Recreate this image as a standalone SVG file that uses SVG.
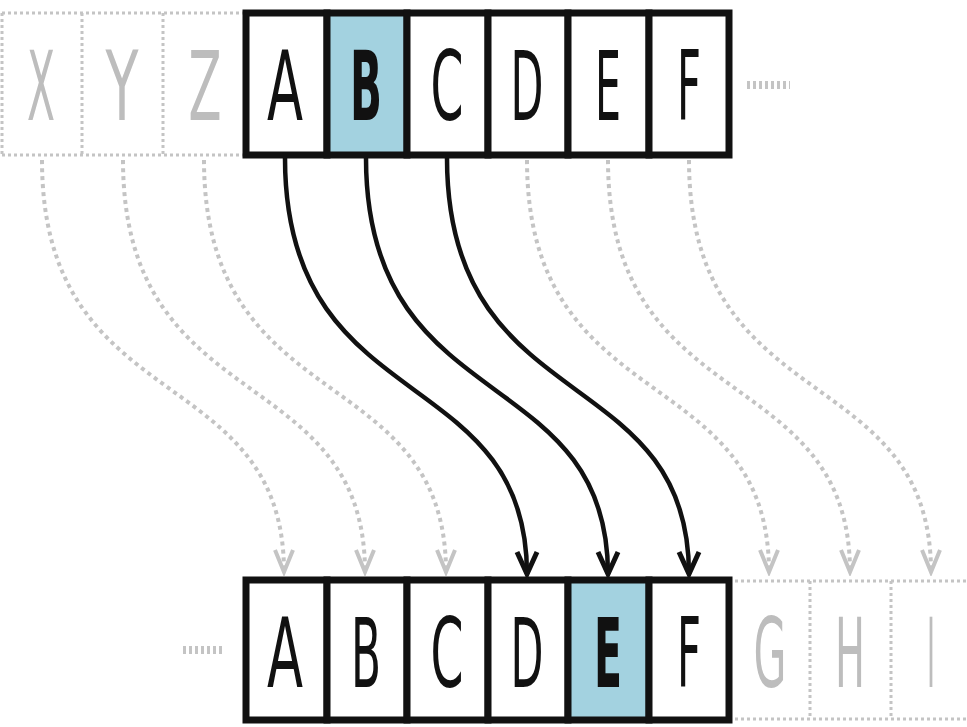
<svg xmlns="http://www.w3.org/2000/svg" width="967" height="727" viewBox="0 0 967 727">
<style>
.cell{fill:#fff;stroke:#111;stroke-width:7}
.hl{fill:#a3d2e0}
.ghost{fill:none;stroke:#c4c4c4;stroke-width:3;stroke-dasharray:3 3}
.lt{font-family:"DejaVu Sans","Liberation Sans",sans-serif;font-size:97px;fill:#111;text-anchor:middle}
.lb{font-weight:bold}
.lg{fill:#bdbdbd}
.arr{fill:none;stroke:#111;stroke-width:4.5}
.garr{fill:none;stroke:#c4c4c4;stroke-width:4;stroke-dasharray:4 4}
.dots{stroke:#c4c4c4;stroke-width:8;stroke-dasharray:3 3}
</style>
<defs>
<marker id="hb" markerUnits="userSpaceOnUse" viewBox="-26 -14 30 28" markerWidth="30" markerHeight="28" refX="0" refY="0" orient="auto">
<path d="M-22,-10 L0,0 L-22,10" fill="none" stroke="#111" stroke-width="5" stroke-linejoin="miter"/>
</marker>
<marker id="hg" markerUnits="userSpaceOnUse" viewBox="-26 -14 30 28" markerWidth="30" markerHeight="28" refX="0" refY="0" orient="auto">
<path d="M-22,-9 L0,0 L-22,9" fill="none" stroke="#c4c4c4" stroke-width="4"/>
</marker>
</defs>
<rect width="967" height="727" fill="#fff"/>

<g id="top-ghost">
<path class="ghost" d="M2,13 H244 M2,155 H244 M2,13 V155 M82,13 V155 M163,13 V155"/>
<text class="lt lg" x="41" y="120" textLength="28" lengthAdjust="spacingAndGlyphs">X</text>
<text class="lt lg" x="122" y="120" textLength="33" lengthAdjust="spacingAndGlyphs">Y</text>
<text class="lt lg" x="205" y="120" textLength="33" lengthAdjust="spacingAndGlyphs">Z</text>
<line class="dots" x1="747" y1="85" x2="790" y2="85"/>
</g>

<g id="top-A"><rect class="cell" x="246" y="13" width="81" height="142"/><text class="lt" x="285" y="120" textLength="36" lengthAdjust="spacingAndGlyphs">A</text></g>
<g id="top-B"><rect class="cell hl" x="327" y="13" width="80" height="142"/><text class="lt lb" x="366" y="120" textLength="32" lengthAdjust="spacingAndGlyphs">B</text></g>
<g id="top-C"><rect class="cell" x="407" y="13" width="81" height="142"/><text class="lt" x="447" y="120" textLength="33" lengthAdjust="spacingAndGlyphs">C</text></g>
<g id="top-D"><rect class="cell" x="488" y="13" width="80" height="142"/><text class="lt" x="527" y="120" textLength="33" lengthAdjust="spacingAndGlyphs">D</text></g>
<g id="top-E"><rect class="cell" x="568" y="13" width="81" height="142"/><text class="lt" x="608" y="120" textLength="26" lengthAdjust="spacingAndGlyphs">E</text></g>
<g id="top-F"><rect class="cell" x="649" y="13" width="80" height="142"/><text class="lt" x="689" y="120" textLength="24" lengthAdjust="spacingAndGlyphs">F</text></g>

<g id="bottom-ghost">
<path class="ghost" d="M729,581 H967 M729,719 H967 M810,581 V719 M891,581 V719"/>
<text class="lt lg" x="770" y="687" textLength="33" lengthAdjust="spacingAndGlyphs">G</text>
<text class="lt lg" x="850" y="687" textLength="30" lengthAdjust="spacingAndGlyphs">H</text>
<text class="lt lg" x="931" y="687" textLength="8" lengthAdjust="spacingAndGlyphs">I</text>
<line class="dots" x1="183" y1="650" x2="222" y2="650"/>
</g>

<g id="bot-A"><rect class="cell" x="246" y="580" width="81" height="140"/><text class="lt" x="285" y="687" textLength="36" lengthAdjust="spacingAndGlyphs">A</text></g>
<g id="bot-B"><rect class="cell" x="327" y="580" width="80" height="140"/><text class="lt" x="366" y="687" textLength="30" lengthAdjust="spacingAndGlyphs">B</text></g>
<g id="bot-C"><rect class="cell" x="407" y="580" width="81" height="140"/><text class="lt" x="447" y="687" textLength="33" lengthAdjust="spacingAndGlyphs">C</text></g>
<g id="bot-D"><rect class="cell" x="488" y="580" width="80" height="140"/><text class="lt" x="527" y="687" textLength="33" lengthAdjust="spacingAndGlyphs">D</text></g>
<g id="bot-E"><rect class="cell hl" x="568" y="580" width="81" height="140"/><text class="lt lb" x="608" y="687" textLength="28" lengthAdjust="spacingAndGlyphs">E</text></g>
<g id="bot-F"><rect class="cell" x="649" y="580" width="80" height="140"/><text class="lt" x="689" y="687" textLength="24" lengthAdjust="spacingAndGlyphs">F</text></g>

<g id="connectors">
<path class="garr" marker-end="url(#hg)" d="M42,160 C42,420 284,360 284,572"/>
<path class="garr" marker-end="url(#hg)" d="M123,160 C123,420 365,360 365,572"/>
<path class="garr" marker-end="url(#hg)" d="M204,160 C204,420 446,360 446,572"/>
<path class="garr" marker-end="url(#hg)" d="M527,160 C527,420 769,360 769,572"/>
<path class="garr" marker-end="url(#hg)" d="M608,160 C608,420 850,360 850,572"/>
<path class="garr" marker-end="url(#hg)" d="M689,160 C689,420 931,360 931,572"/>
<path class="arr" marker-end="url(#hb)" d="M285,158 C285,420 527,360 527,574"/>
<path class="arr" marker-end="url(#hb)" d="M366,158 C366,420 608,360 608,574"/>
<path class="arr" marker-end="url(#hb)" d="M447,158 C447,420 689,360 689,574"/>
</g>
</svg>
